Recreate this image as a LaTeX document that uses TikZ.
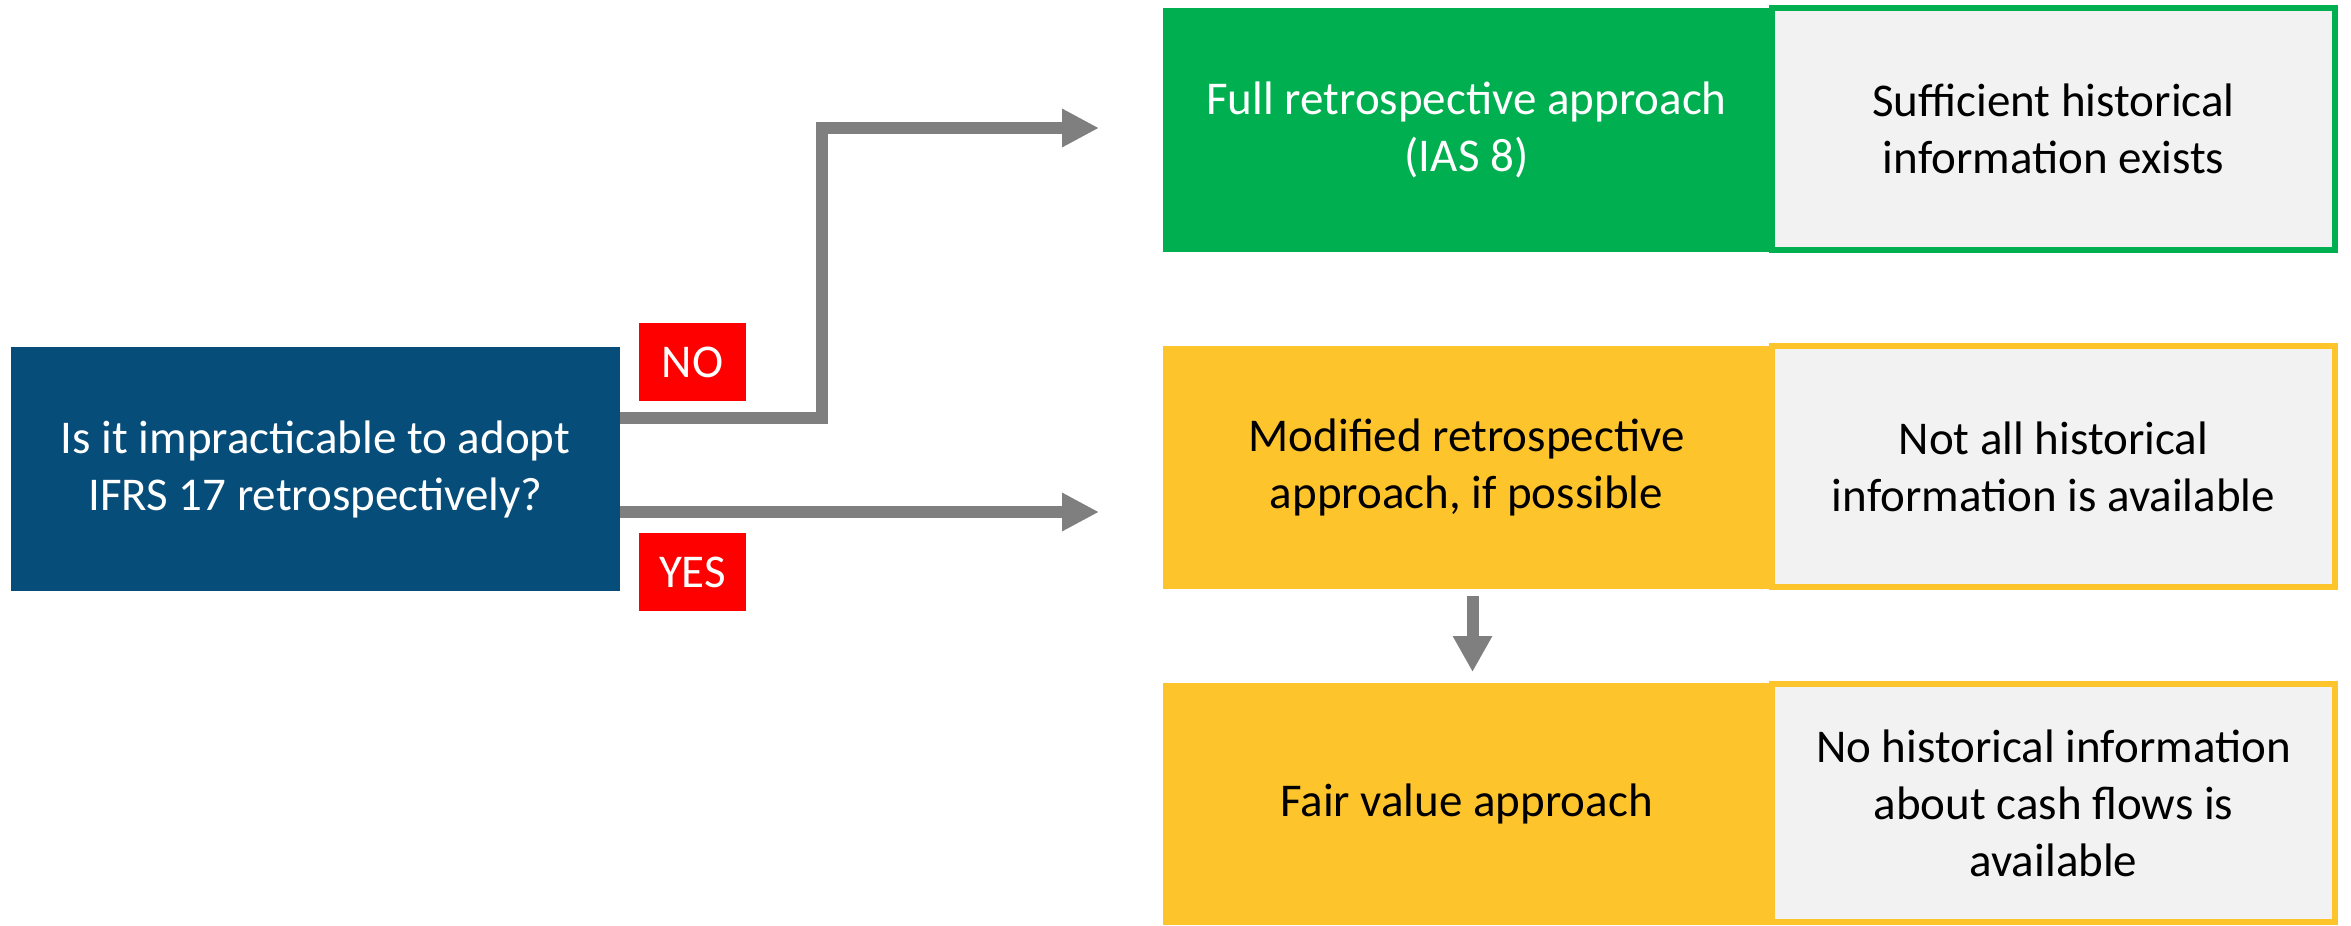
\documentclass[tikz,border=0pt]{standalone}
\usepackage{fontspec}
\setmainfont{Carlito}
\usetikzlibrary{arrows.meta}
\definecolor{qblue}{HTML}{064D7A}
\definecolor{qgreen}{HTML}{00B050}
\definecolor{qyellow}{HTML}{FEC42C}
\definecolor{qgray}{HTML}{F2F2F2}
\definecolor{qarrow}{HTML}{7F7F7F}
\definecolor{qred}{HTML}{FF0000}
\begin{document}
\begin{tikzpicture}[x=0.4bp,y=-0.4bp,
  box/.style={rectangle, inner sep=0pt, outer sep=0pt, align=center, font=\fontsize{18.8bp}{22.8bp}\selectfont},
  leftbox/.style={box, minimum width=242.8bp},
  infobox/.style={box, fill=qgray, line width=2.4bp, text=black, minimum width=225.2bp},
  tag/.style={box, fill=qred, text=white, minimum width=42.8bp, minimum height=31.2bp},
  arr/.style={draw=qarrow, line width=4.8bp, -{Triangle[length=14.8bp,width=14.4bp]}}
]
\useasboundingbox (0,0) rectangle (2351,925);
% question
\node[box, fill=qblue, text=white, minimum width=243.6bp, minimum height=97.6bp] (q) at (315.5,469) {Is it impracticable to adopt\\IFRS 17 retrospectively?};
% outcomes
\node[leftbox, fill=qgreen, text=white, minimum height=97.6bp] (full) at (1466.5,130) {Full retrospective approach\\(IAS 8)};
\node[infobox, draw=qgreen, minimum height=96.8bp] (s1) at (2053.5,129) {Sufficient historical\\information exists};
\node[leftbox, fill=qyellow, text=black, minimum height=97.2bp] (mod) at (1466.5,467.5) {Modified retrospective\\approach, if possible};
\node[infobox, draw=qyellow, minimum height=96.4bp] (s2) at (2053.5,466.5) {Not all historical\\information is available};
\node[leftbox, fill=qyellow, text=black, minimum height=96.8bp] (fv) at (1466.5,804) {Fair value approach};
\node[infobox, draw=qyellow, minimum height=95.2bp] (s3) at (2053.5,803) {No historical information\\about cash flows is\\available};
% labels
\node[tag] (no) at (692.5,362) {NO};
\node[tag] (yes) at (692.5,572) {YES};
% connectors
\coordinate (noend) at (1099,128);
\coordinate (noturn) at (822,418);
\coordinate (yesend) at (1099,512);
\draw[arr] (q.east |- noturn) -- (noturn) |- (noend);
\draw[arr] (q.east |- yesend) -- (yesend);
\draw[arr, -{Triangle[length=14.4bp,width=14.8bp]}] ([shift={(6,7)}]mod.south) -- ([shift={(6,-11)}]fv.north);
\end{tikzpicture}
\end{document}
